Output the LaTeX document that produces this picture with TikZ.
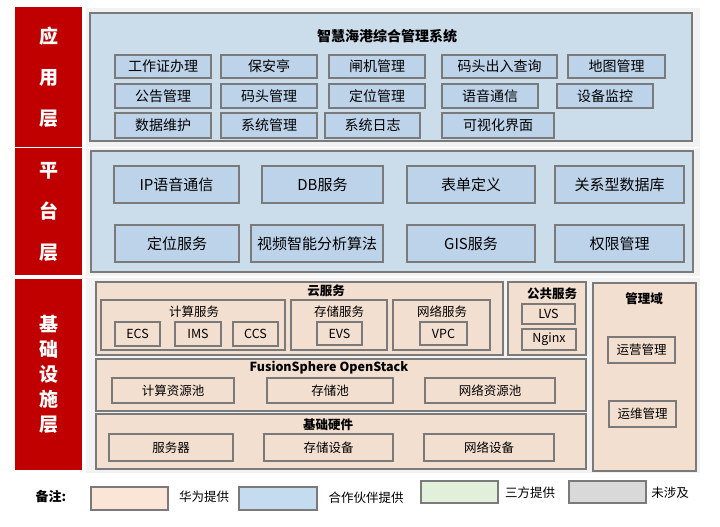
\documentclass[tikz,border=0pt]{standalone}
\usepackage{fontspec}
\setmainfont{Noto Sans CJK SC}
\definecolor{layerred}{HTML}{C00000}
\definecolor{panelgray}{HTML}{F2F2F2}
\definecolor{bordergray}{HTML}{7A7A7A}
\definecolor{appblue}{HTML}{CBDCEB}
\definecolor{boxblue}{HTML}{BDD3E9}
\definecolor{peach}{HTML}{F3DFD0}
\definecolor{lgpeach}{HTML}{FBE5D6}
\definecolor{lgblue}{HTML}{C5DCF0}
\definecolor{lggreen}{HTML}{E2EFDA}
\definecolor{lggray}{HTML}{D9D9D9}
\newcommand\BX[7]{\node[#1, minimum width={(#5)-(#3)}, minimum height={(#6)-(#4)}] (#2) at ({((#3)+(#5))/2},{((#4)+(#6))/2}) {#7};}
\tikzset{
  base/.style={inner sep=0pt, outer sep=0pt, rectangle},
  layerbox/.style={base, fill=layerred, text=white, align=center, font=\bfseries\fontsize{19}{41}\selectfont},
  panel/.style={base, fill=panelgray},
  outerbox/.style={base, draw=bordergray, line width=1.3pt},
  appbox/.style={base, draw=bordergray, line width=1.3pt, fill=boxblue, font=\fontsize{14}{16}\selectfont},
  platbox/.style={appbox, font=\fontsize{15}{17}\selectfont},
  infraouter/.style={base, draw=bordergray, line width=1.3pt, fill=peach},
  infrabox/.style={base, draw=bordergray, line width=1.3pt, fill=peach, font=\fontsize{12.5}{14}\selectfont},
  lgbox/.style={base, draw=bordergray, line width=1.2pt},
  title/.style={inner sep=0pt, font=\bfseries\fontsize{14}{16}\selectfont},
  subtitle/.style={inner sep=0pt, font=\bfseries\fontsize{12.5}{14}\selectfont},
  label/.style={inner sep=0pt, font=\fontsize{12.5}{14}\selectfont},
  lgtext/.style={inner sep=0pt, font=\fontsize{12.5}{14}\selectfont},
}
\begin{document}
\begin{tikzpicture}[x=1pt,y=-1pt]
\useasboundingbox (0,0) rectangle (720,527);
% panels
\BX{panel}{p1}{86}{8}{700}{147}{}
\BX{panel}{p2}{86}{148}{700}{276}{}
\BX{panel}{p3}{86}{278}{700}{473}{}
% layer labels
\BX{layerbox}{L1}{15}{7}{82}{147}{应\\用\\层}
\BX{layerbox}{L2}{15}{148}{82}{275}{平\\台\\层}
\node[layerbox, minimum width=67, minimum height=191, font=\bfseries\fontsize{19}{25}\selectfont] (L3) at (48.5,374.5) {基\\础\\设\\施\\层};
% application layer
\BX{outerbox, fill=appblue}{app}{90}{13}{692}{141}{}
\node[title] (apptitle) at (387,36) {智慧海港综合管理系统};
\BX{appbox}{a11}{115}{55}{211}{78}{工作证办理}
\BX{appbox}{a12}{221}{55}{317}{78}{保安亭}
\BX{appbox}{a13}{329}{55}{425}{78}{闸机管理}
\BX{appbox}{a14}{442}{55}{557}{78}{码头出入查询}
\BX{appbox}{a15}{568}{55}{665}{78}{地图管理}
\BX{appbox}{a21}{115}{84}{211}{108}{公告管理}
\BX{appbox}{a22}{221}{84}{317}{108}{码头管理}
\BX{appbox}{a23}{329}{84}{425}{108}{定位管理}
\BX{appbox}{a24}{442}{84}{538}{108}{语音通信}
\BX{appbox}{a25}{557}{84}{653}{108}{设备监控}
\BX{appbox}{a31}{115}{113}{211}{138}{数据维护}
\BX{appbox}{a32}{221}{113}{317}{138}{系统管理}
\BX{appbox}{a33}{325}{113}{420}{138}{系统日志}
\BX{appbox}{a34}{442}{113}{554}{138}{可视化界面}
% platform layer
\BX{outerbox, fill=appblue}{plat}{91}{151}{693}{272}{}
\BX{platbox}{p11}{114}{166}{239}{203}{IP语音通信}
\BX{platbox}{p12}{262}{166}{383}{203}{DB服务}
\BX{platbox}{p13}{407}{166}{535}{203}{表单定义}
\BX{platbox}{p14}{555}{166}{684}{203}{关系型数据库}
\BX{platbox}{p21}{115}{225}{239}{262}{定位服务}
\BX{platbox}{p22}{251}{225}{383}{262}{视频智能分析算法}
\BX{platbox}{p23}{407}{225}{535}{262}{GIS服务}
\BX{platbox}{p24}{555}{225}{684}{262}{权限管理}
% infrastructure layer
\BX{infraouter}{cloud}{96}{282}{503}{355}{}
\node[subtitle] (cloudt) at (326,291) {云服务};
\BX{infraouter}{comp}{101}{300}{285}{350}{}
\node[label] (compt) at (194,312) {计算服务};
\BX{infrabox}{ecs}{115}{322}{160}{346}{ECS}
\BX{infrabox}{ims}{175}{322}{221}{346}{IMS}
\BX{infrabox}{ccs}{233}{322}{278}{346}{CCS}
\BX{infraouter}{stor}{291}{300}{387}{350}{}
\node[label] (stort) at (339,312) {存储服务};
\BX{infrabox}{evs}{317}{322}{362}{345}{EVS}
\BX{infraouter}{net}{393}{300}{490}{350}{}
\node[label] (nett) at (442,312) {网络服务};
\BX{infrabox}{vpc}{420}{322}{467}{345}{VPC}
\BX{infraouter}{pub}{508}{282}{586}{355}{}
\node[subtitle] (pubt) at (552,294) {公共服务};
\BX{infrabox}{lvs}{522}{304}{575}{324}{LVS}
\BX{infrabox}{nginx}{522}{329}{576}{350}{Nginx}
\BX{infraouter}{mgmt}{593}{283}{696}{471}{}
\node[subtitle] (mgmtt) at (644,299) {管理域};
\BX{infrabox}{ops}{608}{337}{675}{363}{运营管理}
\BX{infrabox}{om}{609}{401}{676}{427}{运维管理}
\BX{infraouter}{fs}{96}{359}{586}{411}{}
\node[subtitle] (fst) at (329,368) {FusionSphere OpenStack};
\BX{infrabox}{cpool}{112}{378}{234}{403}{计算资源池}
\BX{infrabox}{spool}{267}{378}{393}{403}{存储池}
\BX{infrabox}{npool}{425}{378}{555}{403}{网络资源池}
\BX{infraouter}{hw}{96}{414}{586}{469}{}
\node[subtitle] (hwt) at (328,425) {基础硬件};
\BX{infrabox}{srv}{109}{434}{233}{461}{服务器}
\BX{infrabox}{sdev}{264}{434}{393}{461}{存储设备}
\BX{infrabox}{ndev}{424}{434}{554}{461}{网络设备}
% legend
\node[inner sep=0pt, font=\bfseries\fontsize{13}{15}\selectfont] (note) at (51,497) {备注:};
\BX{lgbox, fill=lgpeach}{lg1}{91}{487}{168}{510}{}
\node[lgtext] (lg1t) at (204,497) {华为提供};
\BX{lgbox, fill=lgblue}{lg2}{239}{487}{317}{510}{}
\node[lgtext] (lg2t) at (366,498) {合作伙伴提供};
\BX{lgbox, fill=lggreen}{lg3}{421}{481}{498}{503}{}
\node[lgtext] (lg3t) at (530,493) {三方提供};
\BX{lgbox, fill=lggray}{lg4}{569}{481}{646}{503}{}
\node[lgtext] (lg4t) at (670,493) {未涉及};
\end{tikzpicture}
\end{document}
